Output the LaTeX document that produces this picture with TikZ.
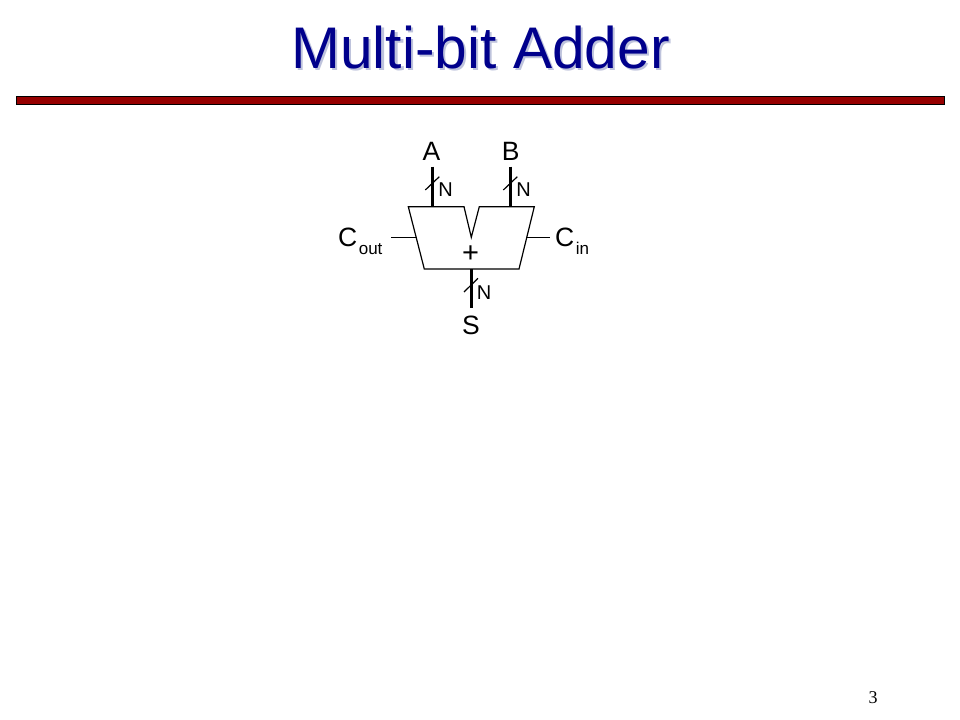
\documentclass[tikz,border=0pt]{standalone}
\usepackage{fontspec}
\setmainfont{Liberation Sans}
\newfontfamily\serifnum{Liberation Serif}
\definecolor{titleblue}{RGB}{0,0,140}
\definecolor{titleshade}{RGB}{190,195,220}
\definecolor{barred}{RGB}{150,0,0}
\newcommand{\pxfont}[1]{\fontsize{#1bp}{#1bp}\selectfont}
\newcommand{\shadowed}[1]{\rlap{\raisebox{-2.4bp}{\hspace{2.2bp}\textcolor{titleshade}{#1}}}\textcolor{titleblue}{#1}}
\tikzset{
  x=1bp,y=-1bp,
  lbl/.style={inner sep=0pt,outer sep=0pt,anchor=base,text=black},
  biglbl/.style={lbl,font=\pxfont{26.5}},
  sublbl/.style={lbl,font=\pxfont{17},anchor=base west},
  widthlbl/.style={lbl,font=\pxfont{20}},
  titletext/.style={inner sep=0pt,outer sep=0pt,anchor=base,font=\pxfont{58.7}},
  thinline/.style={draw=black,line width=1.2bp},
  busline/.style={draw=black,line width=3bp},
  bar/.style={draw=black,fill=barred,line width=1.2bp},
}
\begin{document}
\begin{tikzpicture}
\useasboundingbox[fill=white] (0,0) rectangle (960,720);
% title
\node[titletext] (title) at (480.5,68.5) {\shadowed{Multi-bit Adder}};
\path[bar] (16.5,96.8) rectangle (944.5,104.6);
% adder body
\coordinate (tl) at (408.3,206.7);
\coordinate (n1) at (464,206.7);
\coordinate (nb) at (471.3,237.3);
\coordinate (n2) at (479.3,206.7);
\coordinate (tr) at (534.3,206.7);
\coordinate (br) at (519,269);
\coordinate (bl) at (424.3,269);
\path[thinline] (tl) -- (n1) -- (nb) -- (n2) -- (tr) -- (br) -- (bl) -- cycle;
\node[biglbl,font=\pxfont{29}] (plus) at (470.7,262.2) {+};
% labels
\node[biglbl] (A) at (431.5,160.5) {A};
\node[biglbl] (B) at (510.7,160.5) {B};
\node[biglbl] (S) at (471,334.5) {S};
\node[widthlbl] (NA) at (445.5,196.5) {N};
\node[widthlbl] (NB) at (523.5,196.5) {N};
\node[widthlbl] (NS) at (484,299.5) {N};
\node[biglbl,anchor=base west] (Cout) at (338,246) {C};
\node[sublbl] (outsub) at (358.8,254.7) {out};
\node[biglbl,anchor=base west] (Cin) at (555,246) {C};
\node[sublbl] (insub) at (575.8,254.7) {in};
% buses
\coordinate (Aw) at (432.3,166.7);
\coordinate (Ab) at (432.3,206.7);
\coordinate (Bw) at (510.3,166.7);
\coordinate (Bb) at (510.3,206.7);
\coordinate (Sb) at (471.3,269);
\coordinate (Sw) at (471.3,308);
\path[busline] (Aw) -- (Ab);
\path[busline] (Bw) -- (Bb);
\path[busline] (Sb) -- (Sw);
\coordinate (a1) at (425.3,190); \coordinate (a2) at (439.3,176.7);
\coordinate (b1) at (503.3,190); \coordinate (b2) at (517.3,176.7);
\coordinate (s1) at (464,292);   \coordinate (s2) at (478,278.3);
\path[thinline] (a1) -- (a2);
\path[thinline] (b1) -- (b2);
\path[thinline] (s1) -- (s2);
% carries
\coordinate (cow) at (391.3,237.3);
\coordinate (cob) at (416,237.3);
\coordinate (cib) at (526.7,237.3);
\coordinate (ciw) at (549.7,237.3);
\path[thinline] (cow) -- (cob);
\path[thinline] (cib) -- (ciw);
% page number
\node[inner sep=0pt,anchor=base,font=\serifnum\pxfont{18},text=black] (page) at (873,703) {3};
\end{tikzpicture}
\end{document}
